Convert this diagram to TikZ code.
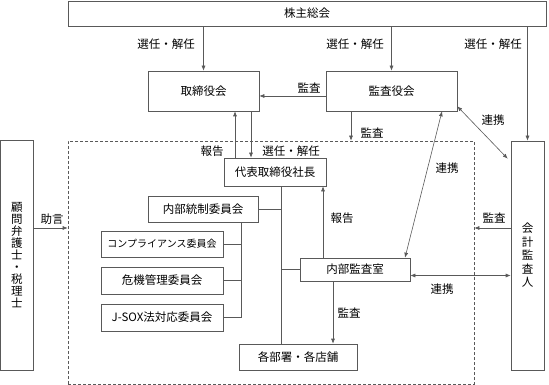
\documentclass[tikz,border=0pt]{standalone}
\usepackage{fontspec}
\setmainfont{Noto Sans CJK JP}
\usetikzlibrary{arrows.meta}

\begin{document}
\begin{tikzpicture}[x=1pt, y=-1pt, line width=0.6pt,
    every node/.style={font=\fontsize{11.5}{13}\selectfont, inner sep=0pt},
    box/.style={draw=black!65, fill=white},
    arr/.style={draw=black!65, -{Latex[length=5pt,width=4pt]}},
    darr/.style={draw=black!65, {Latex[length=5pt,width=4pt]}-{Latex[length=5pt,width=4pt]}},
    link/.style={draw=black!65}]
    \useasboundingbox (0,0) rectangle (549,385);

    % Group outline (dashed)
    \node[draw=black!65, dash pattern=on 3pt off 2pt, minimum width=406pt, minimum height=243pt] (group) at (271,262.5) {};

    % Boards
    \node[box, minimum width=478pt, minimum height=25pt] (soukai) at (307,13.5) {株主総会};
    \node[box, minimum width=111pt, minimum height=40pt] (torishimari) at (203.5,91) {取締役会};
    \node[box, minimum width=131pt, minimum height=40pt] (kansayaku) at (391.5,91) {監査役会};
    \node[box, minimum width=102pt, minimum height=28pt] (shacho) at (275,172) {代表取締役社長};

    % Committees
    \node[box, minimum width=110pt, minimum height=26pt] (tousei) at (203,209) {内部統制委員会};
    \node[box, minimum width=122pt, minimum height=26pt, font=\fontsize{10}{12}\selectfont] (compliance) at (162,244) {コンプライアンス委員会};
    \node[box, minimum width=122pt, minimum height=27pt] (kiki) at (162,280.5) {危機管理委員会};
    \node[box, minimum width=122pt, minimum height=27pt] (jsox) at (162,317.5) {J-SOX法対応委員会};
    \node[box, minimum width=110pt, minimum height=23pt] (naibukansa) at (355,269.5) {内部監査室};
    \node[box, minimum width=118pt, minimum height=26pt] (kakubusho) at (298,357) {各部署・各店舗};

    % Outside parties (vertical text)
    \node[box, minimum width=32.5pt, minimum height=230pt, align=center, font=\fontsize{11.5}{12}\selectfont] (komon) at (16.75,255) {顧\\問\\弁\\護\\士\\・\\税\\理\\士};
    \node[box, minimum width=33pt, minimum height=229pt, align=center, font=\fontsize{11.5}{13.5}\selectfont] (kaikei) at (527.5,255.5) {会\\計\\監\\査\\人};

    % Appointment arrows
    \draw[arr] (soukai.south -| torishimari.north) -- (torishimari.north);
    \draw[arr] (soukai.south -| kansayaku.north) -- (kansayaku.north);
    \draw[arr] (soukai.south -| kaikei.north) -- (kaikei.north);
    \draw[arr] ([yshift=-5pt]kansayaku.west) -- ([yshift=-5pt]kansayaku.west -| torishimari.east);
    \draw[arr] ([xshift=-40pt]shacho.north) -- ([xshift=-40pt]shacho.north |- torishimari.south);
    \draw[arr] ([xshift=47.5pt]torishimari.south) -- ([xshift=47.5pt]torishimari.south |- shacho.north);
    \draw[arr] ([xshift=-40.5pt]kansayaku.south) -- ([xshift=-40.5pt]kansayaku.south |- group.north);

    % Cooperation
    \draw[darr] ([xshift=50.5pt]kansayaku.south) -- ([xshift=50pt]naibukansa.north);
    \draw[darr] ([yshift=5pt]kansayaku.south east) -- ([xshift=-3pt,yshift=-18pt]kaikei.north west);
    \draw[darr] ([yshift=-6pt]naibukansa.east) -- ([yshift=-6pt]naibukansa.east -| kaikei.west);
    \draw[arr] ([yshift=27.5pt]kaikei.west) -- ([yshift=27.5pt]kaikei.west -| group.east);
    \draw[arr] ([yshift=27pt]komon.east) -- ([yshift=27pt]komon.east -| group.west);

    % Internal audit
    \draw[arr] ([xshift=-32pt]naibukansa.north) -- ([xshift=-32pt]naibukansa.north |- shacho.south);
    \draw[arr] ([xshift=-22pt]naibukansa.south) -- ([xshift=-22pt]naibukansa.south |- kakubusho.north);

    % Trunk line
    \coordinate (trunk) at ([xshift=6pt]shacho.south);
    \draw[link] (trunk) -- (trunk |- kakubusho.north);
    \draw[link] (tousei.east) -- (tousei.east -| trunk);
    \draw[link] (naibukansa.west) -- (naibukansa.west -| trunk);

    % Committee bracket
    \coordinate (bracket) at ([xshift=38pt]tousei.south);
    \draw[link] (bracket) -- (bracket |- jsox.east) -- (jsox.east);
    \draw[link] (compliance.east) -- (compliance.east -| bracket);
    \draw[link] (kiki.east) -- (kiki.east -| bracket);

    % Labels
    \node (lSennin1) at (166,44) {選任・解任};
    \node (lSennin2) at (355,44) {選任・解任};
    \node (lSennin3) at (493,44) {選任・解任};
    \node (lKansa1) at (309,88) {監査};
    \node (lKansa2) at (372,133) {監査};
    \node (lRenkei1) at (493,120) {連携};
    \node (lHoukoku1) at (212,151) {報告};
    \node (lSennin4) at (291,151) {選任・解任};
    \node (lRenkei2) at (447,168) {連携};
    \node (lHoukoku2) at (342,218) {報告};
    \node (lKansa3) at (494,218) {監査};
    \node (lJogen) at (52,219) {助言};
    \node (lRenkei3) at (442,289) {連携};
    \node (lKansa4) at (349,313) {監査};
\end{tikzpicture}
\end{document}
